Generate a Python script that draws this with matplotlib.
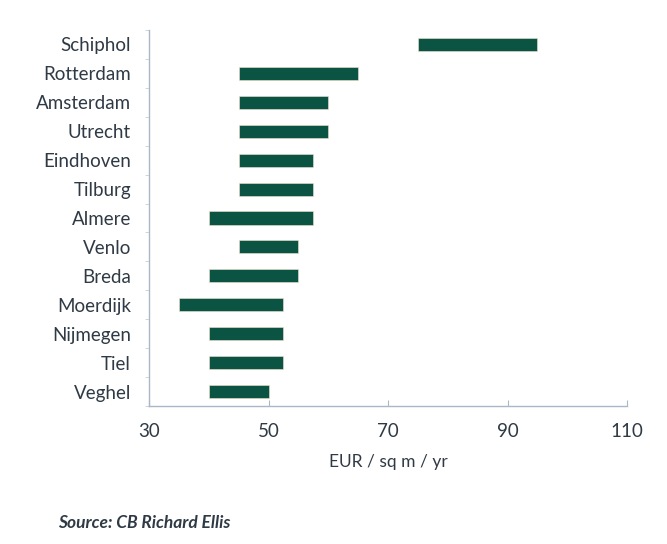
"""Office rent ranges by city, floating bars."""
import numpy as np
import matplotlib.pyplot as plt

cities = ["Schiphol", "Rotterdam", "Amsterdam", "Utrecht", "Eindhoven", "Tilburg",
          "Almere", "Venlo", "Breda", "Moerdijk", "Nijmegen", "Tiel", "Veghel"]
rent_low = [75, 45, 45, 45, 45, 45, 40, 45, 40, 35, 40, 40, 40]
rent_high = [95, 65, 60, 60, 57.5, 57.5, 57.5, 55, 55, 52.5, 52.5, 52.5, 50]
x_ticks = [30, 50, 70, 90, 110]

plt.rcParams['font.family'] = ['Lato', 'DejaVu Sans']
text_col = "#2f3a45"
axis_col = "#a9b7c6"
bar_col = "#0b5443"

fig = plt.figure(figsize=(6.67, 5.44), dpi=100)
ax = fig.add_axes([149 / 667, 1 - 406 / 544, (627 - 149) / 667, (406 - 30) / 544])

n = len(cities)
ypos = np.arange(n)[::-1]
widths = np.array(rent_high) - np.array(rent_low)
ax.barh(ypos, widths, left=rent_low, height=0.45, color=bar_col,
        edgecolor="#f5e2cc", linewidth=0.4)

ax.set_xlim(30, 110)
ax.set_ylim(-0.45, n - 0.52)
ax.set_xticks(x_ticks)
ax.set_xticklabels([str(t) for t in x_ticks], fontsize=13.5, color=text_col)
ax.set_yticks(ypos)
ax.set_yticklabels(cities, fontsize=13.5, color=text_col)
ax.set_yticks(np.arange(n + 1) - 0.5, minor=True)

for side in ["top", "right"]:
    ax.spines[side].set_visible(False)
for side in ["left", "bottom"]:
    ax.spines[side].set_color(axis_col)
    ax.spines[side].set_linewidth(1.0)

ax.tick_params(axis="y", which="major", length=0, pad=13)
ax.tick_params(axis="y", which="minor", length=3, direction="out", color="#c5d0db")
ax.tick_params(axis="x", length=4, direction="in", color=axis_col, pad=12)

ax.set_xlabel("EUR / sq m / yr", fontsize=12.5, color=text_col, labelpad=10)

fig.text(58 / 667, 1 - 523 / 544, "Source: CB Richard Ellis", fontsize=12.5,
         fontweight="bold", fontstyle="italic", color=text_col, va="center")

fig.savefig("out.png", dpi=100, facecolor="white")
